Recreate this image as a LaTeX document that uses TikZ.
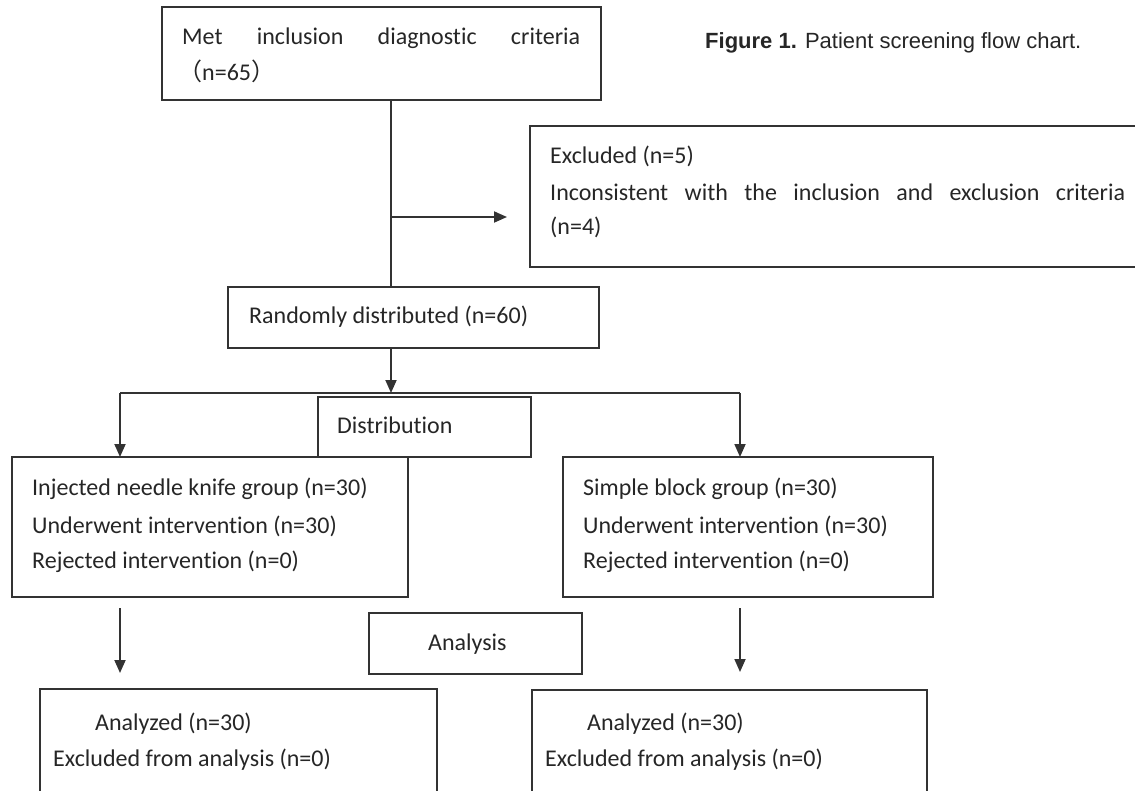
\documentclass[tikz,border=0pt]{standalone}
\usepackage{fontspec}
\setmainfont{Carlito}[Ligatures=NoCommon]
\newfontfamily\capfont{Liberation Sans}
\newfontfamily\cjk{Noto Sans CJK SC}
\usetikzlibrary{arrows.meta}
\begin{document}
\begin{tikzpicture}[x=1pt,y=-1pt,
  box/.style={draw=black!80, line width=1.8pt, inner sep=0pt, outer sep=0pt, anchor=north west},
  txt/.style={anchor=base west, inner sep=0pt, text=black!85, font=\fontsize{24}{29}\selectfont},
  con/.style={draw=black!80, line width=1.8pt},
  arr/.style={con, -{Triangle[length=13pt,width=11pt]}}]
\useasboundingbox (0,0) rectangle (1135,790);
% boxes
\node[box, minimum width=439pt, minimum height=93pt] (top) at (162,7) {};
\node[box, minimum width=620pt, minimum height=141pt] (excl) at (530,126) {};
\node[box, minimum width=371pt, minimum height=61pt] (rand) at (228,287) {};
\node[box, minimum width=213pt, minimum height=60pt] (dist) at (318,397) {};
\node[box, minimum width=396pt, minimum height=140pt] (left) at (12,457) {};
\node[box, minimum width=370pt, minimum height=140pt] (right) at (563,457) {};
\node[box, minimum width=213pt, minimum height=61pt] (anal) at (369,613) {};
\node[box, minimum width=397pt, minimum height=120pt] (bl) at (40,689) {};
\node[box, minimum width=395pt, minimum height=120pt] (br) at (532,690) {};
% connectors
\coordinate (split) at (391,217);
\coordinate (busL) at (120,393);
\coordinate (busR) at (740,393);
\draw[con] (top.south -| split) -- (rand.north -| split);
\draw[arr] (split) -- ([xshift=-23pt]excl.west |- split);
\draw[arr] (rand.south -| split) -- (split |- busL);
\draw[con] (busL) -- (busR);
\draw[arr] (busL) -- (left.north -| busL);
\draw[arr] (busR) -- (right.north -| busR);
\draw[arr] ([yshift=-11pt]left.south -| busL) -- ([yshift=16pt]bl.north -| busL);
\draw[arr] ([yshift=-11pt]right.south -| busR) -- ([yshift=18pt]br.north -| busR);
% texts
\node[txt] (t1) at (182,44) {\makebox[398pt][s]{Met inclusion diagnostic criteria}};
\node[txt] (t2) at (178,80) {{\cjk （}n=65{\cjk ）}};
\node[txt] (e1) at (550,163) {Excluded (n=5)};
\node[txt] (e2) at (550,200) {\makebox[575pt][s]{Inconsistent with the inclusion and exclusion criteria}};
\node[txt] (e3) at (550,234) {(n=4)};
\node[txt] (r1) at (249,323) {Randomly distributed (n=60)};
\node[txt] (d1) at (337,433) {Distribution};
\node[txt] (l1) at (32,495) {Injected needle knife group (n=30)};
\node[txt] (l2) at (32,533) {Underwent intervention (n=30)};
\node[txt] (l3) at (32,568) {Rejected intervention (n=0)};
\node[txt] (s1) at (583,495) {Simple block group (n=30)};
\node[txt] (s2) at (583,533) {Underwent intervention (n=30)};
\node[txt] (s3) at (583,568) {Rejected intervention (n=0)};
\node[txt] (a1) at (428,650) {Analysis};
\node[txt] (b1) at (95,730) {Analyzed (n=30)};
\node[txt] (b2) at (53,766) {Excluded from analysis (n=0)};
\node[txt] (c1) at (587,730) {Analyzed (n=30)};
\node[txt] (c2) at (545,766) {Excluded from analysis (n=0)};
\node[anchor=base west, inner sep=0pt, text=black!85, font=\capfont\fontsize{22}{26}\selectfont] (cap) at (705,48) {\textbf{Figure 1.} Patient screening flow chart.};
\end{tikzpicture}
\end{document}
